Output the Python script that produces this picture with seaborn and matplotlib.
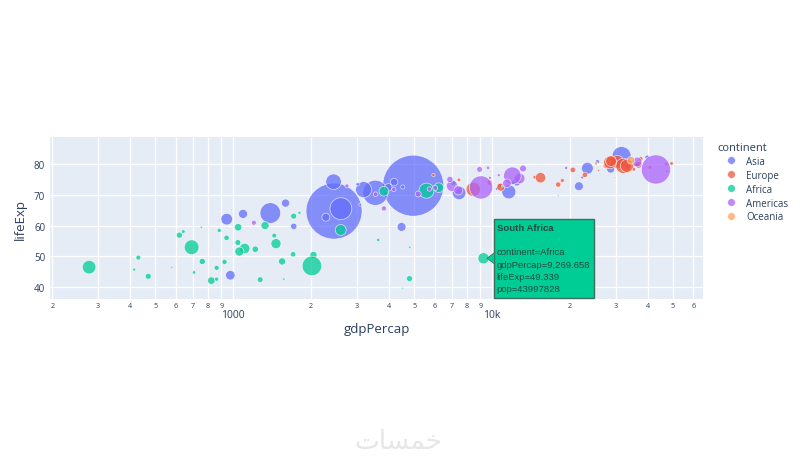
import numpy as np
import pandas as pd
import matplotlib
matplotlib.use("Agg")
import matplotlib.pyplot as plt
import matplotlib.ticker as mticker
from matplotlib.lines import Line2D
from matplotlib.patches import Rectangle, Polygon
import seaborn as sns

# ---------------- data (gapminder, 2007) ----------------
countries = ["Afghanistan","Albania","Algeria","Angola","Argentina","Australia","Austria","Bahrain","Bangladesh","Belgium",
"Benin","Bolivia","Bosnia and Herzegovina","Botswana","Brazil","Bulgaria","Burkina Faso","Burundi","Cambodia","Cameroon",
"Canada","Central African Republic","Chad","Chile","China","Colombia","Comoros","Congo, Dem. Rep.","Congo, Rep.","Costa Rica",
"Cote d'Ivoire","Croatia","Cuba","Czech Republic","Denmark","Djibouti","Dominican Republic","Ecuador","Egypt","El Salvador",
"Equatorial Guinea","Eritrea","Ethiopia","Finland","France","Gabon","Gambia","Germany","Ghana","Greece",
"Guatemala","Guinea","Guinea-Bissau","Haiti","Honduras","Hong Kong, China","Hungary","Iceland","India","Indonesia",
"Iran","Iraq","Ireland","Israel","Italy","Jamaica","Japan","Jordan","Kenya","Korea, Dem. Rep.",
"Korea, Rep.","Kuwait","Lebanon","Lesotho","Liberia","Libya","Madagascar","Malawi","Malaysia","Mali",
"Mauritania","Mauritius","Mexico","Mongolia","Montenegro","Morocco","Mozambique","Myanmar","Namibia","Nepal",
"Netherlands","New Zealand","Nicaragua","Niger","Nigeria","Norway","Oman","Pakistan","Panama","Paraguay",
"Peru","Philippines","Poland","Portugal","Puerto Rico","Reunion","Romania","Rwanda","Sao Tome and Principe","Saudi Arabia",
"Senegal","Serbia","Sierra Leone","Singapore","Slovak Republic","Slovenia","Somalia","South Africa","Spain","Sri Lanka",
"Sudan","Swaziland","Sweden","Switzerland","Syria","Taiwan","Tanzania","Thailand","Togo","Trinidad and Tobago",
"Tunisia","Turkey","Uganda","United Kingdom","United States","Uruguay","Venezuela","Vietnam","West Bank and Gaza","Yemen, Rep.",
"Zambia","Zimbabwe"]

continent = ["Asia","Europe","Africa","Africa","Americas","Oceania","Europe","Asia","Asia","Europe",
"Africa","Americas","Europe","Africa","Americas","Europe","Africa","Africa","Asia","Africa",
"Americas","Africa","Africa","Americas","Asia","Americas","Africa","Africa","Africa","Americas",
"Africa","Europe","Americas","Europe","Europe","Africa","Americas","Americas","Africa","Americas",
"Africa","Africa","Africa","Europe","Europe","Africa","Africa","Europe","Africa","Europe",
"Americas","Africa","Africa","Americas","Americas","Asia","Europe","Europe","Asia","Asia",
"Asia","Asia","Europe","Asia","Europe","Americas","Asia","Asia","Africa","Asia",
"Asia","Asia","Asia","Africa","Africa","Africa","Africa","Africa","Asia","Africa",
"Africa","Africa","Americas","Asia","Europe","Africa","Africa","Asia","Africa","Asia",
"Europe","Oceania","Americas","Africa","Africa","Europe","Asia","Asia","Americas","Americas",
"Americas","Asia","Europe","Europe","Americas","Africa","Europe","Africa","Africa","Asia",
"Africa","Europe","Africa","Asia","Europe","Europe","Africa","Africa","Europe","Asia",
"Africa","Africa","Europe","Europe","Asia","Asia","Africa","Asia","Africa","Americas",
"Africa","Europe","Africa","Europe","Americas","Americas","Americas","Asia","Asia","Asia",
"Africa","Africa"]

life_exp = [43.828,76.423,72.301,42.731,75.320,81.235,79.829,75.635,64.062,79.441,
56.728,65.554,74.852,50.728,72.390,73.005,52.295,49.580,59.723,50.430,
80.653,44.741,50.651,78.553,72.961,72.889,65.152,46.462,55.322,78.782,
48.328,75.748,78.273,76.486,78.332,54.791,72.235,74.994,71.338,71.878,
51.579,58.040,52.947,79.313,80.657,56.735,59.448,79.406,60.022,79.483,
70.259,56.007,46.388,60.916,70.198,82.208,73.338,81.757,64.698,70.650,
70.964,59.545,78.885,80.745,80.546,72.567,82.603,72.535,54.110,67.297,
78.623,77.588,71.993,42.592,45.678,73.952,59.443,48.303,74.241,54.467,
64.164,72.801,76.195,66.803,74.543,71.164,42.082,62.069,52.906,63.785,
79.762,80.204,72.899,56.867,46.859,80.196,75.640,65.483,75.537,71.752,
71.421,71.688,75.563,78.098,78.746,76.442,72.476,46.242,65.528,72.777,
63.062,74.002,42.568,79.972,74.663,77.926,48.159,49.339,80.941,72.396,
58.556,39.613,80.884,81.701,74.143,78.400,52.517,70.616,58.420,69.819,
73.923,71.777,51.542,79.425,78.242,76.384,73.747,74.249,73.422,62.698,
42.384,43.487]

pop = [31889923,3600523,33333216,12420476,40301927,20434176,8199783,708573,150448339,10392226,
8078314,9119152,4552198,1639131,190010647,7322858,14326203,8390505,14131858,17696293,
33390141,4369038,10238807,16284741,1318683096,44227550,710960,64606759,3800610,4133884,
18013409,4493312,11416987,10228744,5468120,496374,9319622,13755680,80264543,6939688,
551201,4906585,76511887,5238460,61083916,1454867,1688359,82400996,22873338,10706290,
12572928,9947814,1472041,8502814,7483763,6980412,9956108,301931,1110396331,223547000,
69453570,27499638,4109086,6426679,58147733,2780132,127467972,6053193,35610177,23301725,
49044790,2505559,3921278,2012649,3193942,6036914,19167654,13327079,24821286,12031795,
3270065,1250882,108700891,2874127,684736,33757175,19951656,47761980,2055080,28901790,
16570613,4115771,5675356,12894865,135031164,4627926,3204897,169270617,3242173,6667147,
28674757,91077287,38518241,10642836,3942491,798094,22276056,8860588,199579,27601038,
12267493,10150265,6144562,4553009,5447502,2009245,9118773,43997828,40448191,20378239,
42292929,1133066,9031088,7554661,19314747,23174294,38139640,65068149,5701579,1056608,
10276158,71158647,29170398,60776238,301139947,3447496,26084662,85262356,4018332,22211743,
11746035,12311143]

gdp_percap = [974.58,5937.03,6223.37,4797.23,12779.38,34435.37,36126.49,29796.05,1391.25,33692.61,
1441.28,3822.14,7446.30,12569.85,9065.80,10680.79,1217.03,430.07,1713.78,2042.10,
36319.24,706.02,1704.06,13171.64,4959.11,7006.58,986.15,277.55,3632.56,9645.06,
1544.75,14619.22,8948.10,22833.31,35278.42,2082.48,6025.37,6873.26,5581.18,5728.35,
12154.09,641.37,690.81,33207.08,30470.02,13206.48,752.75,32170.37,1327.61,27538.41,
5186.05,942.65,579.23,1201.64,3548.33,39724.98,18008.94,36180.79,2452.21,3540.65,
11605.71,4471.06,40676.00,25523.28,28569.72,7320.88,31656.07,4519.46,1463.25,1593.07,
23348.14,47306.99,10461.06,1569.33,414.51,12057.50,1044.77,759.35,12451.66,1042.58,
1803.15,10956.99,11977.57,3095.77,9253.90,3820.18,823.69,944.00,4811.06,1091.36,
36797.93,25185.01,2749.32,619.68,2013.98,49357.19,22316.19,2605.95,9809.19,4172.84,
7408.91,3190.48,15389.92,20509.65,19328.71,7670.12,10808.48,863.09,1598.44,21654.83,
1712.47,9786.53,862.54,47143.18,18678.31,25768.26,926.14,9269.658,28821.06,3970.10,
2602.39,4513.48,33859.75,37506.42,4184.55,28718.28,1107.48,7458.40,882.97,18008.51,
7092.92,8458.28,1056.38,33203.26,42951.65,10611.46,11415.81,2441.58,3025.35,2280.77,
1271.21,469.71]

continent_order = ["Asia", "Europe", "Africa", "Americas", "Oceania"]
continent_colors = ["#636EFA", "#EF553B", "#00CC96", "#AB63FA", "#FFA15A"]

x_minor_ticks = [200, 300, 400, 500, 600, 700, 800, 900,
                 2000, 3000, 4000, 5000, 6000, 7000, 8000, 9000,
                 20000, 30000, 40000, 50000, 60000]
x_minor_labels = ["2", "3", "4", "5", "6", "7", "8", "9",
                  "2", "3", "4", "5", "6", "7", "8", "9",
                  "2", "3", "4", "5", "6"]
x_major_ticks = [1000, 10000]
x_major_labels = ["1000", "10k"]
y_ticks = [40, 50, 60, 70, 80]

hover_country = "South Africa"

# ---------------- frame ----------------
df = pd.DataFrame({"country": countries, "continent": continent,
                   "lifeExp": life_exp, "pop": pop, "gdpPercap": gdp_percap})
df["corder"] = df["continent"].map({c: i for i, c in enumerate(continent_order)})
df = df.sort_values("corder", kind="stable").reset_index(drop=True)

sns.set_theme(style="white")
plt.rcParams["font.family"] = ["Open Sans", "DejaVu Sans"]
TXT = "#2a3f5f"

W, H = 800, 460
fig = plt.figure(figsize=(W / 100, H / 100), dpi=100)
L, R, T, B = 50, 703, 138, 300
ax = fig.add_axes([L / W, 1 - B / H, (R - L) / W, (B - T) / H])
ax.set_facecolor("#E5ECF6")

max_pop = max(pop)
d_max_px = 61.0
s_max = (d_max_px * 72 / 100) ** 2

sns.scatterplot(data=df, x="gdpPercap", y="lifeExp", hue="continent", size="pop",
                hue_order=continent_order, palette=continent_colors,
                sizes=(0, s_max), size_norm=(0, max_pop),
                alpha=0.75, edgecolor="white", linewidth=0.5,
                legend=False, ax=ax, zorder=3)

ax.set_xscale("log")
ax.set_xlim(196, 65300)
ax.set_ylim(36.1, 88.8)

ax.xaxis.set_major_locator(mticker.FixedLocator(x_major_ticks))
ax.xaxis.set_major_formatter(mticker.FixedFormatter(x_major_labels))
ax.xaxis.set_minor_locator(mticker.FixedLocator(x_minor_ticks))
ax.xaxis.set_minor_formatter(mticker.FixedFormatter(x_minor_labels))
ax.set_yticks(y_ticks)
ax.tick_params(axis="x", which="major", length=0, pad=7, labelsize=7.5, labelcolor=TXT)
ax.tick_params(axis="x", which="minor", length=0, pad=2.5, labelsize=5.2, labelcolor=TXT)
ax.tick_params(axis="y", length=0, pad=3.5, labelsize=7, labelcolor=TXT)
ax.grid(True, which="both", color="white", linewidth=0.9)
ax.set_axisbelow(True)
for s in ax.spines.values():
    s.set_visible(False)

ax.set_xlabel("gdpPercap", fontsize=9.5, color=TXT, labelpad=2)
ax.set_ylabel("lifeExp", fontsize=9.5, color=TXT, labelpad=5)

# legend
handles = [Line2D([], [], marker="o", linestyle="", markersize=5.5,
                  markerfacecolor=c, markeredgecolor="white", markeredgewidth=0.4,
                  alpha=0.75, label=n) for n, c in zip(continent_order, continent_colors)]
leg = fig.legend(handles=handles, title="continent", loc="upper left",
                 bbox_to_anchor=(713 / W, 1 - 139 / H), frameon=False,
                 fontsize=7, title_fontsize=8, handletextpad=0.2,
                 labelspacing=0.3, handlelength=2.8, alignment="left",
                 borderaxespad=0)
for t in leg.get_texts():
    t.set_color(TXT)
leg.get_title().set_color(TXT)

# hover label
row = df[df["country"] == hover_country].iloc[0]
px, py = ax.transData.transform((row["gdpPercap"], row["lifeExp"]))
inv = fig.transFigure.inverted()
def fpt(xp, yp):
    return inv.transform((xp, yp))
bx0, bw, bh = px + 10, 100, 79
by0 = py - bh / 2
box_fc, box_ec = "#00CC96", "#3d6d5e"
fig.patches.append(Rectangle(fpt(bx0, by0), bw / W, bh / H, transform=fig.transFigure,
                             facecolor=box_fc, edgecolor=box_ec, linewidth=1.0, zorder=10))
tri = [fpt(px + 4, py), fpt(bx0 + 0.6, py + 5), fpt(bx0 + 0.6, py - 5)]
fig.patches.append(Polygon(tri, closed=True, transform=fig.transFigure,
                           facecolor=box_fc, edgecolor="none", zorder=11))
fig.add_artist(Line2D([tri[1][0], tri[0][0], tri[2][0]], [tri[1][1], tri[0][1], tri[2][1]],
                      transform=fig.transFigure, color=box_ec, linewidth=1.0, zorder=11))
hc = "#244a3e"
top = by0 + bh
fx, fy = fpt(bx0 + 3, top - 9)
fig.text(fx, fy, hover_country, fontsize=6.8, fontweight="bold", color=hc,
         family=["Liberation Sans", "DejaVu Sans"], va="center", ha="left", zorder=12)
lines = ["continent=" + row["continent"],
         "gdpPercap=" + f"{row['gdpPercap']:,.3f}",
         "lifeExp=" + f"{row['lifeExp']:.3f}",
         "pop=" + str(int(row["pop"]))]
for i, s in enumerate(lines):
    fx, fy = fpt(bx0 + 3, top - 33 - i * 12.3)
    fig.text(fx, fy, s, fontsize=6.8, color=hc, family=["Liberation Sans", "DejaVu Sans"],
             va="center", ha="left", zorder=12)

# watermark
fig.text(398 / W, 1 - 442 / H, "\uFE95\uFE8E\uFEB4\uFEE4\uFEA7", fontsize=19,
         color="#e6e6e6", family=["DejaVu Sans"], ha="center", va="center")

fig.savefig("out.png", dpi=100, facecolor="white")
